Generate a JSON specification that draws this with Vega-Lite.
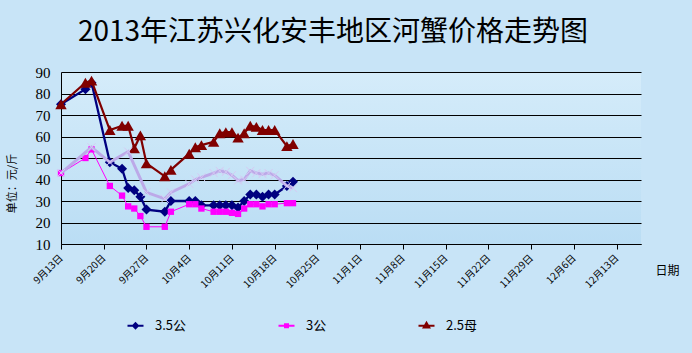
{
  "$schema": "https://vega.github.io/schema/vega-lite/v6.json",
  "width": 580,
  "height": 172,
  "autosize": "none",
  "padding": {"left": 61, "top": 72, "right": 51, "bottom": 109},
  "background": "#C8E4F7",
  "title": {"text": "2013年江苏兴化安丰地区河蟹价格走势图", "font": "Noto Sans CJK SC", "fontSize": 28, "fontWeight": "normal", "color": "#000000", "anchor": "middle", "dx": -18, "offset": 18},
  "config": {
    "view": {"stroke": null, "fill": {"gradient": "linear", "x1": 0, "y1": 0, "x2": 0, "y2": 1, "stops": [{"offset": 0, "color": "#D5ECFA"}, {"offset": 1, "color": "#BADDF4"}]}}
  },
  "data": {"values": [
    {"d": "2013-09-13", "s": "3.5公", "v": 75}, {"d": "2013-09-17", "s": "3.5公", "v": 82}, {"d": "2013-09-18", "s": "3.5公", "v": 85}, {"d": "2013-09-21", "s": "3.5公", "v": 48}, {"d": "2013-09-23", "s": "3.5公", "v": 45}, {"d": "2013-09-24", "s": "3.5公", "v": 36}, {"d": "2013-09-25", "s": "3.5公", "v": 35}, {"d": "2013-09-26", "s": "3.5公", "v": 32}, {"d": "2013-09-27", "s": "3.5公", "v": 26}, {"d": "2013-09-30", "s": "3.5公", "v": 25}, {"d": "2013-10-01", "s": "3.5公", "v": 30}, {"d": "2013-10-04", "s": "3.5公", "v": 30}, {"d": "2013-10-05", "s": "3.5公", "v": 30}, {"d": "2013-10-06", "s": "3.5公", "v": 28}, {"d": "2013-10-08", "s": "3.5公", "v": 28}, {"d": "2013-10-09", "s": "3.5公", "v": 28}, {"d": "2013-10-10", "s": "3.5公", "v": 28}, {"d": "2013-10-11", "s": "3.5公", "v": 28}, {"d": "2013-10-12", "s": "3.5公", "v": 27}, {"d": "2013-10-13", "s": "3.5公", "v": 30}, {"d": "2013-10-14", "s": "3.5公", "v": 33}, {"d": "2013-10-15", "s": "3.5公", "v": 33}, {"d": "2013-10-16", "s": "3.5公", "v": 32}, {"d": "2013-10-17", "s": "3.5公", "v": 33}, {"d": "2013-10-18", "s": "3.5公", "v": 33}, {"d": "2013-10-20", "s": "3.5公", "v": 37}, {"d": "2013-10-21", "s": "3.5公", "v": 39},
    {"d": "2013-09-13", "s": "3公", "v": 43}, {"d": "2013-09-17", "s": "3公", "v": 50}, {"d": "2013-09-18", "s": "3公", "v": 54}, {"d": "2013-09-21", "s": "3公", "v": 37}, {"d": "2013-09-23", "s": "3公", "v": 32.5}, {"d": "2013-09-24", "s": "3公", "v": 27.5}, {"d": "2013-09-25", "s": "3公", "v": 26.5}, {"d": "2013-09-26", "s": "3公", "v": 23}, {"d": "2013-09-27", "s": "3公", "v": 18}, {"d": "2013-09-30", "s": "3公", "v": 18}, {"d": "2013-10-01", "s": "3公", "v": 25}, {"d": "2013-10-04", "s": "3公", "v": 28.5}, {"d": "2013-10-05", "s": "3公", "v": 28.5}, {"d": "2013-10-06", "s": "3公", "v": 26.5}, {"d": "2013-10-08", "s": "3公", "v": 25}, {"d": "2013-10-09", "s": "3公", "v": 25}, {"d": "2013-10-10", "s": "3公", "v": 25}, {"d": "2013-10-11", "s": "3公", "v": 24.5}, {"d": "2013-10-12", "s": "3公", "v": 24}, {"d": "2013-10-13", "s": "3公", "v": 26.5}, {"d": "2013-10-14", "s": "3公", "v": 28.5}, {"d": "2013-10-15", "s": "3公", "v": 28.5}, {"d": "2013-10-16", "s": "3公", "v": 27.5}, {"d": "2013-10-17", "s": "3公", "v": 28.5}, {"d": "2013-10-18", "s": "3公", "v": 28.5}, {"d": "2013-10-20", "s": "3公", "v": 29}, {"d": "2013-10-21", "s": "3公", "v": 29},
    {"d": "2013-09-13", "s": "2.5母", "v": 75}, {"d": "2013-09-17", "s": "2.5母", "v": 85}, {"d": "2013-09-18", "s": "2.5母", "v": 86}, {"d": "2013-09-21", "s": "2.5母", "v": 63}, {"d": "2013-09-23", "s": "2.5母", "v": 65}, {"d": "2013-09-24", "s": "2.5母", "v": 65}, {"d": "2013-09-25", "s": "2.5母", "v": 54.5}, {"d": "2013-09-26", "s": "2.5母", "v": 60.5}, {"d": "2013-09-27", "s": "2.5母", "v": 47.5}, {"d": "2013-09-30", "s": "2.5母", "v": 41.5}, {"d": "2013-10-01", "s": "2.5母", "v": 44.5}, {"d": "2013-10-04", "s": "2.5母", "v": 52}, {"d": "2013-10-05", "s": "2.5母", "v": 55}, {"d": "2013-10-06", "s": "2.5母", "v": 56}, {"d": "2013-10-08", "s": "2.5母", "v": 57.5}, {"d": "2013-10-09", "s": "2.5母", "v": 61.5}, {"d": "2013-10-10", "s": "2.5母", "v": 62}, {"d": "2013-10-11", "s": "2.5母", "v": 62}, {"d": "2013-10-12", "s": "2.5母", "v": 59.5}, {"d": "2013-10-13", "s": "2.5母", "v": 61.5}, {"d": "2013-10-14", "s": "2.5母", "v": 65}, {"d": "2013-10-15", "s": "2.5母", "v": 64.5}, {"d": "2013-10-16", "s": "2.5母", "v": 63}, {"d": "2013-10-17", "s": "2.5母", "v": 63}, {"d": "2013-10-18", "s": "2.5母", "v": 63}, {"d": "2013-10-20", "s": "2.5母", "v": 55.5}, {"d": "2013-10-21", "s": "2.5母", "v": 56.5},
    {"d": "2013-09-13", "s": "其他", "v": 43}, {"d": "2013-09-18", "s": "其他", "v": 55}, {"d": "2013-09-21", "s": "其他", "v": 48}, {"d": "2013-09-24", "s": "其他", "v": 53}, {"d": "2013-09-27", "s": "其他", "v": 34}, {"d": "2013-09-30", "s": "其他", "v": 31}, {"d": "2013-10-01", "s": "其他", "v": 34}, {"d": "2013-10-04", "s": "其他", "v": 38}, {"d": "2013-10-05", "s": "其他", "v": 40}, {"d": "2013-10-06", "s": "其他", "v": 41}, {"d": "2013-10-08", "s": "其他", "v": 43}, {"d": "2013-10-09", "s": "其他", "v": 44}, {"d": "2013-10-10", "s": "其他", "v": 43.5}, {"d": "2013-10-11", "s": "其他", "v": 42}, {"d": "2013-10-12", "s": "其他", "v": 39.5}, {"d": "2013-10-13", "s": "其他", "v": 40}, {"d": "2013-10-14", "s": "其他", "v": 44}, {"d": "2013-10-15", "s": "其他", "v": 43}, {"d": "2013-10-16", "s": "其他", "v": 42.5}, {"d": "2013-10-17", "s": "其他", "v": 43}, {"d": "2013-10-18", "s": "其他", "v": 42}, {"d": "2013-10-20", "s": "其他", "v": 37}, {"d": "2013-10-21", "s": "其他", "v": 36}
  ]},
  "encoding": {
    "x": {
      "field": "d", "type": "temporal",
      "scale": {"type": "utc", "domain": [{"year": 2013, "month": 9, "date": 13, "utc": true}, {"year": 2013, "month": 12, "date": 17, "utc": true}]},
      "axis": {
        "title": "日期",
        "values": [
          {"year": 2013, "month": 9, "date": 13, "utc": true}, {"year": 2013, "month": 9, "date": 20, "utc": true}, {"year": 2013, "month": 9, "date": 27, "utc": true},
          {"year": 2013, "month": 10, "date": 4, "utc": true}, {"year": 2013, "month": 10, "date": 11, "utc": true}, {"year": 2013, "month": 10, "date": 18, "utc": true}, {"year": 2013, "month": 10, "date": 25, "utc": true},
          {"year": 2013, "month": 11, "date": 1, "utc": true}, {"year": 2013, "month": 11, "date": 8, "utc": true}, {"year": 2013, "month": 11, "date": 15, "utc": true}, {"year": 2013, "month": 11, "date": 22, "utc": true}, {"year": 2013, "month": 11, "date": 29, "utc": true},
          {"year": 2013, "month": 12, "date": 6, "utc": true}, {"year": 2013, "month": 12, "date": 13, "utc": true}
        ],
        "labelExpr": "utcFormat(datum.value, '%-m月%-d日')",
        "labelAngle": -45, "labelAlign": "right", "labelBaseline": "middle",
        "labelFont": "Noto Sans CJK SC", "labelFontSize": 10, "labelColor": "#000000", "labelPadding": 7,
        "labelOverlap": false, "labelFlush": false,
        "grid": false, "domainColor": "#000000", "domainWidth": 1, "tickColor": "#000000", "tickSize": 5,
        "titleFont": "Noto Sans CJK SC", "titleFontSize": 12, "titleFontWeight": "normal", "titleColor": "#000000",
        "titleX": 594, "titleY": 26, "titleAlign": "left", "titleBaseline": "middle", "titleAngle": 0
      }
    },
    "y": {
      "field": "v", "type": "quantitative",
      "scale": {"domain": [10, 90], "nice": false, "zero": false},
      "axis": {
        "title": "单位：元/斤",
        "values": [10, 20, 30, 40, 50, 60, 70, 80, 90],
        "grid": true, "gridColor": "#000000", "gridWidth": 1, "gridOpacity": 1,
        "domainColor": "#000000", "ticks": false,
        "labelFont": "Liberation Serif", "labelFontSize": 15, "labelColor": "#000000", "labelPadding": 11,
        "titleFont": "Noto Sans CJK SC", "titleFontSize": 11, "titleFontWeight": "normal", "titleColor": "#000000",
        "titleX": -49, "titleY": 111, "titleAlign": "center", "titleBaseline": "middle"
      }
    },
    "color": {"field": "s", "type": "nominal", "scale": {"domain": ["3.5公", "3公", "2.5母"], "range": ["#000080", "#FF00FF", "#800000"]},
      "legend": {
        "orient": "none", "legendX": 68, "legendY": 247, "direction": "horizontal", "title": null,
        "labelFont": "Noto Sans CJK SC", "labelFontSize": 13, "labelColor": "#000000", "labelOffset": 13,
        "columnPadding": 87, "symbolSize": 100, "symbolStrokeWidth": 1.5,
        "encode": {"symbols": {"update": {
          "shape": {"signal": "datum.value === '3.5公' ? 'M-1.6,0H1.6M0,-0.5L0.5,0L0,0.5L-0.5,0Z' : (datum.value === '3公' ? 'M-1.6,0H1.6M-0.3,-0.3H0.3V0.3H-0.3Z' : 'M-1.6,0H1.6M0,-0.6L0.55,0.35L-0.55,0.35Z')"},
          "fill": {"scale": "color", "field": "value"},
          "stroke": {"scale": "color", "field": "value"},
          "strokeWidth": {"value": 2},
          "opacity": {"value": 1}
        }}}
      }}
  },
  "layer": [
    {"transform": [{"filter": "datum.s === '3.5公'"}], "mark": {"type": "line", "strokeWidth": 2.3}},
    {"transform": [{"filter": "datum.s === '3.5公'"}], "mark": {"type": "point", "shape": "diamond", "filled": true, "size": 100, "opacity": 1}},
    {"transform": [{"filter": "datum.s === '3公'"}], "mark": {"type": "line", "strokeWidth": 1}},
    {"transform": [{"filter": "datum.s === '3公'"}], "mark": {"type": "point", "shape": "square", "filled": true, "size": 40, "opacity": 1}},
    {"transform": [{"filter": "datum.s === '2.5母'"}], "mark": {"type": "line", "strokeWidth": 2.2}},
    {"transform": [{"filter": "datum.s === '2.5母'"}], "mark": {"type": "point", "shape": "triangle-up", "filled": true, "size": 130, "opacity": 1}},
    {"transform": [{"filter": "datum.s === '其他'"}], "mark": {"type": "line", "strokeWidth": 3}, "encoding": {"color": {"value": "#BCA9E8"}}},
    {"transform": [{"filter": "datum.s === '其他'"}], "mark": {"type": "point", "shape": "M-1,-1L1,1M-1,1L1,-1", "filled": false, "strokeWidth": 1, "size": 64, "opacity": 1}, "encoding": {"color": {"value": "#D6C9F3"}}}
  ]
}
